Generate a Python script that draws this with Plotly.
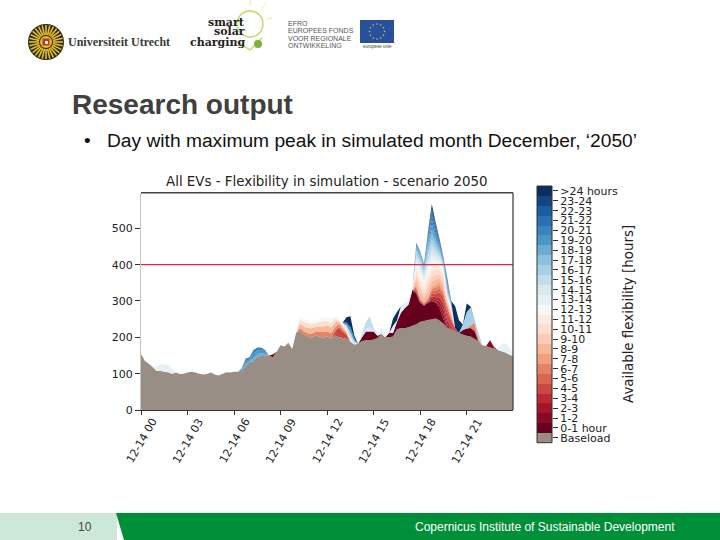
"""
Research output slide: stacked EV flexibility for the peak day, scenario 2050
"""
import math

import pandas as pd
import plotly.graph_objects as go
from plotly.colors import sample_colorscale

W, H = 720, 540
FONT = 'DejaVu Sans'
SLIDE_FONT = 'Liberation Sans'

# 15 minute steps over the day
times = pd.date_range('2050-12-14 00:00', periods=97, freq='15min')

baseload = [
    155, 135, 127, 118, 108, 108, 105, 104, 100, 103, 99, 100,
    103, 105, 103, 100, 98, 99, 103, 98, 95, 99, 104, 103,
    105, 105, 108, 122, 132, 135, 146, 149, 148, 150, 145, 160,
    178, 175, 185, 168, 212, 218, 208, 203, 198, 205, 202, 198,
    203, 197, 205, 200, 198, 196, 187, 180, 182, 190, 192, 192,
    194, 198, 210, 200, 200, 202, 222, 226, 225, 228, 232, 236,
    243, 245, 248, 250, 252, 246, 238, 226, 222, 216, 212, 208,
    204, 202, 196, 190, 178, 176, 172, 170, 165, 162, 158, 152, 148,
]
threshold = [400] * 97

tick_times = ['2050-12-14 00:00', '2050-12-14 03:00', '2050-12-14 06:00', '2050-12-14 09:00',
              '2050-12-14 12:00', '2050-12-14 15:00', '2050-12-14 18:00', '2050-12-14 21:00']
tick_labels = ['12-14 00', '12-14 03', '12-14 06', '12-14 09',
               '12-14 12', '12-14 15', '12-14 18', '12-14 21']

band_labels = [
    '0-1 hour', '1-2', '2-3', '3-4', '4-5', '5-6', '6-7', '7-8', '8-9', '9-10',
    '10-11', '11-12', '12-13', '13-14', '14-15', '15-16', '16-17', '17-18',
    '18-19', '19-20', '20-21', '21-22', '22-23', '23-24', '>24 hours',
]


def place(pieces):
    """Turn {start hour: values} into a full day of 97 values"""
    vals = [0] * 97
    for hour, chunk in pieces.items():
        i = int(hour * 4)
        vals[i:i + len(chunk)] = chunk
    return vals


# stack thickness per band, zero where a band is absent
band_0_1 = place({8.5: [8], 14.25: [10, 24, 24, 22, 6], 16: [12, 10, 20, 41, 55, 62],
                  17.5: [98, 84, 52, 42, 47, 50, 43, 34, 12], 20.75: [12, 20, 24, 22]})
band_1_2 = place({17.5: [0, 2, 0, 0, 0, 3, 3, 8, 12], 22.25: [0, 20, 4]})
band_2_3 = place({17.5: [0, 3, 2, 1, 2, 4, 5, 10, 14, 8]})
band_3_4 = place({17.5: [0, 4, 2, 1, 2, 6, 7, 12, 16, 14, 8]})
band_4_5 = place({12.5: [10, 28, 18, 12], 17.5: [0, 4, 3, 2, 3, 7, 10, 14, 16, 20, 14, 10]})
band_5_6 = place({17.5: [0, 4, 3, 2, 3, 7, 9, 10, 10, 12, 8]})
band_6_7 = place({10.25: [8, 8, 8, 12, 10, 14, 16, 14, 14, 12, 8, 8, 4],
                  17.5: [0, 4, 3, 2, 3, 7, 9, 8, 6, 6, 4], 21.25: [6, 22, 6]})
band_7_8 = place({17.5: [0, 4, 2, 2, 2, 6, 7, 8, 6, 4, 4]})
band_8_9 = place({10.25: [12, 14, 15, 15, 14, 14, 16, 16, 16, 14, 8, 6, 4, 4],
                  17.5: [2, 12, 14, 11, 15, 13, 14, 12, 14, 6, 6]})
band_9_10 = place({17.5: [1, 13, 16, 12, 17, 14, 14, 12, 14, 5, 5]})
band_10_11 = place({10.25: [12, 12, 14, 12, 10, 12, 15, 12, 13, 10, 4, 6, 4, 4],
                    17.5: [1, 13, 15, 11, 17, 14, 14, 11, 12, 5, 5]})
band_11_12 = place({17.5: [1, 12, 15, 11, 16, 14, 13, 10, 10, 4, 4]})
band_12_13 = place({10.25: [8, 8, 8, 8, 6, 8, 10, 10, 10, 7, 2, 4, 3, 3, 2],
                    17.5: [0, 8, 10, 8, 12, 15, 10, 8, 5, 2, 2]})
band_13_14 = place({1: [12, 18, 20, 20, 14], 15.25: [5, 15, 15, 0, 20, 4, 18, 15, 10],
                    17.5: [0, 8, 10, 8, 12, 15, 10, 8, 5, 2, 2], 23: [5, 18, 25, 20, 8]})
band_14_15 = place({14.25: [4, 8, 12, 4], 17.5: [0, 9, 10, 9, 11, 15, 10, 9, 5, 1, 1]})
band_15_16 = place({13.25: [10, 15, 8], 14.25: [8, 18, 30, 6, 2],
                    17.5: [0, 8, 8, 8, 12, 14, 10, 6, 4, 4, 2], 21.75: [2]})
band_16_17 = place({17.5: [0, 8, 8, 7, 12, 14, 10, 6, 3, 5, 2], 20.75: [15, 45, 50, 10, 14, 1]})
band_17_18 = place({17.5: [0, 6, 6, 6, 12, 14, 10, 6, 3, 5, 2]})
band_18_19 = place({6.5: [1, 4, 2, 8, 8, 8, 6], 17.5: [0, 6, 5, 5, 10, 14, 9, 5, 3, 6, 2]})
band_19_20 = place({6.5: [3, 8, 5, 12, 10, 9, 7], 13.25: [8, 15, 8],
                    17.5: [0, 4, 4, 4, 10, 14, 9, 5, 3, 7, 2]})
band_20_21 = place({6.5: [3, 8, 6, 10, 8, 6, 4], 17.5: [0, 4, 3, 3, 8, 14, 9, 6, 3, 7, 2]})
band_21_22 = place({17.5: [0, 2, 1, 1, 6, 12, 9, 6, 3, 6, 2]})
band_22_23 = place({17.5: [0, 1, 1, 1, 6, 10, 8, 5, 2, 5, 1]})
band_23_24 = place({17.5: [0, 1, 0, 0, 3, 8, 6, 3, 1, 2]})
band_over_24 = place({13.25: [14, 30, 7], 16.25: [20, 24], 17.5: [0, 0, 0, 0, 1, 12, 5, 2],
                      20.25: [60, 35], 21: [24, 3]})

bands = [
    band_0_1, band_1_2, band_2_3, band_3_4, band_4_5, band_5_6, band_6_7, band_7_8,
    band_8_9, band_9_10, band_10_11, band_11_12, band_12_13, band_13_14, band_14_15,
    band_15_16, band_16_17, band_17_18, band_18_19, band_19_20, band_20_21, band_21_22,
    band_22_23, band_23_24, band_over_24,
]

BASE_COLOR = '#988e86'
band_colors = sample_colorscale('RdBu', 25)


def px_x(x):
    return x / W


def px_y(y):
    return 1 - y / H


fig = go.Figure()

fig.add_trace(go.Scatter(x=times, y=baseload, name='Baseload', stackgroup='flex',
                         mode='none', fillcolor=BASE_COLOR))
for label, vals, color in zip(band_labels, bands, band_colors):
    fig.add_trace(go.Scatter(x=times, y=vals, name=label, stackgroup='flex',
                             mode='none', fillcolor=color))

fig.add_trace(go.Scatter(x=times, y=threshold, mode='lines',
                         line=dict(color='#dc2a30', width=1.4)))

# discrete colour key, built as a one column heatmap
key_labels = ['Baseload'] + band_labels
key_colors = [BASE_COLOR] + band_colors
key_scale = []
for i, color in enumerate(key_colors):
    key_scale.append([i / len(key_colors), color])
    key_scale.append([(i + 1) / len(key_colors), color])

fig.add_trace(go.Heatmap(x=[0], y=key_labels, z=[[i] for i in range(len(key_labels))],
                         zmin=-0.5, zmax=len(key_labels) - 0.5, colorscale=key_scale,
                         showscale=False, xaxis='x2', yaxis='y2'))

shapes = []


def box(x0, y0, x1, y1, fill, line=None):
    shapes.append(dict(type='rect', xref='paper', yref='paper', x0=px_x(x0), x1=px_x(x1),
                       y0=px_y(y0), y1=px_y(y1), fillcolor=fill,
                       line=dict(width=1 if line else 0, color=line or fill)))


def dot(cx, cy, r, fill, line=None, width=1):
    shapes.append(dict(type='circle', xref='paper', yref='paper', x0=px_x(cx - r), x1=px_x(cx + r),
                       y0=px_y(cy - r), y1=px_y(cy + r), fillcolor=fill,
                       line=dict(width=width if line else 0, color=line or fill)))


def stroke(x0, y0, x1, y1, color, width=1):
    shapes.append(dict(type='line', xref='paper', yref='paper', x0=px_x(x0), x1=px_x(x1),
                       y0=px_y(y0), y1=px_y(y1), line=dict(color=color, width=width)))


# right spine and key outline
stroke(513, 192.7, 513, 410, '#444444', 1.3)
stroke(141, 192.7, 513, 192.7, '#444444', 1.6)
box(537, 186, 552, 442.7, 'rgba(0,0,0,0)', '#333333')

# footer
box(0, 513, 117, 540, '#cde8d9')
shapes.append(dict(type='path', xref='paper', yref='paper', fillcolor='#008f39', line=dict(width=0),
                   path=f'M {px_x(116)} {px_y(513)} L {px_x(124)} {px_y(540)} '
                        f'L 1 {px_y(540)} L 1 {px_y(513)} Z'))

# university seal
dot(46, 42, 18, '#2b2a1c')
for k in range(28):
    a = 2 * math.pi * k / 28
    stroke(46 + 7 * math.cos(a), 42 + 7 * math.sin(a), 46 + 17 * math.cos(a), 42 + 17 * math.sin(a),
           '#e8c020', 1.6)
dot(46, 42, 6, '#e8c020')
box(42.5, 38.5, 49.5, 45.5, '#b8352a')
box(45, 41, 48, 44, '#f3efe2')

# smart solar charging mark
dot(250, 24, 13, 'rgba(0,0,0,0)', '#c4d860', 1.4)
stroke(235, 40, 250, 50, '#c4d860', 1.4)
stroke(250, 50, 262, 38, '#c4d860', 1.4)
for x0, y0, x1, y1 in [(250, 0, 250, 6), (266, 3, 262, 8), (272, 18, 267, 19)]:
    stroke(x0, y0, x1, y1, '#f0ec90', 1)
dot(258, 44, 4, '#7fb23a')

# EU flag
box(360, 20, 394, 43, '#28509c')
for k in range(12):
    a = 2 * math.pi * k / 12
    dot(377 + 7.5 * math.cos(a), 31.5 + 7.5 * math.sin(a), 0.7, '#e8d850')

fig.update_layout(
    width=W,
    height=H,
    margin=dict(l=0, r=0, t=0, b=0, pad=0),
    paper_bgcolor='white',
    plot_bgcolor='white',
    showlegend=False,
    font=dict(family=FONT, size=11, color='#222222'),
    xaxis=dict(
        domain=[px_x(141), px_x(513)],
        type='date',
        automargin=False,
        range=['2050-12-14 00:00', '2050-12-14 23:59'],
        tickvals=tick_times,
        showticklabels=False,
        ticks='outside',
        ticklen=4,
        tickcolor='#333333',
        showgrid=False,
        showline=True,
        linecolor='#333333',
        zeroline=False,
        anchor='y',
    ),
    yaxis=dict(
        domain=[px_y(410), px_y(192.7)],
        automargin=False,
        range=[0, 598],
        tickvals=[0, 100, 200, 300, 400, 500],
        ticks='outside',
        ticklen=5,
        tickcolor='#333333',
        showgrid=False,
        showline=True,
        linecolor='#c4c4c4',
        zeroline=False,
        anchor='x',
    ),
    xaxis2=dict(domain=[px_x(537), px_x(552)], visible=False, anchor='y2', automargin=False),
    yaxis2=dict(
        domain=[px_y(442.7), px_y(186)],
        type='category',
        automargin=False,
        side='right',
        anchor='x2',
        ticks='outside',
        ticklen=5,
        tickcolor='#333333',
        showgrid=False,
        zeroline=False,
        dtick=1,
    ),
    shapes=shapes,
)


def note(x, y, text, size, color='#222222', family=FONT, anchor='left', angle=0):
    fig.add_annotation(xref='paper', yref='paper', x=px_x(x), y=px_y(y), text=text, showarrow=False,
                       xanchor=anchor, yanchor='middle', textangle=angle, borderpad=0,
                       font=dict(family=family, size=size, color=color))


# rotated labels sit centred under their ticks
for when, label in zip(tick_times, tick_labels):
    fig.add_annotation(xref='x', yref='paper', x=when, y=px_y(441), text=label, showarrow=False,
                       xanchor='center', yanchor='middle', textangle=-60, borderpad=0,
                       font=dict(family=FONT, size=11, color='#222222'))

note(327, 181, 'All EVs - Flexibility in simulation - scenario 2050', 13.4, anchor='center')
note(628, 314, 'Available flexibility [hours]', 13.4, anchor='center', angle=-90)

note(71, 105, '<b>Research output</b>', 28, '#404040', SLIDE_FONT)
note(83, 141, '•', 19, '#111111', SLIDE_FONT)
note(106, 141, 'Day with maximum peak in simulated month December, ‘2050’', 19.2, '#111111', SLIDE_FONT)
note(85, 527, '10', 12, '#444444', SLIDE_FONT, anchor='center')
note(414, 527, 'Copernicus Institute of Sustainable Development', 12, 'white', SLIDE_FONT)

# logo lettering
note(67, 42, '<b>Universiteit Utrecht</b>', 12, '#3a3a3a', 'Liberation Serif')
note(246, 22, '<b>smart</b>', 11, '#222222', 'DejaVu Serif', anchor='right')
note(246, 32, '<b>solar</b>', 11, '#222222', 'DejaVu Serif', anchor='right')
note(246, 43, '<b>charging</b>', 11, '#222222', 'DejaVu Serif', anchor='right')
for y, line in zip([24, 31, 38, 46], ['EFRO', 'EUROPEES FONDS', 'VOOR REGIONALE', 'ONTWIKKELING']):
    note(287, y, line, 7, '#555555', SLIDE_FONT)
note(377, 47, 'europese unie', 4.5, '#444444', SLIDE_FONT, anchor='center')

fig.write_html("out.html", post_script="document.body.style.margin='0'",
               config={'displayModeBar': False})
